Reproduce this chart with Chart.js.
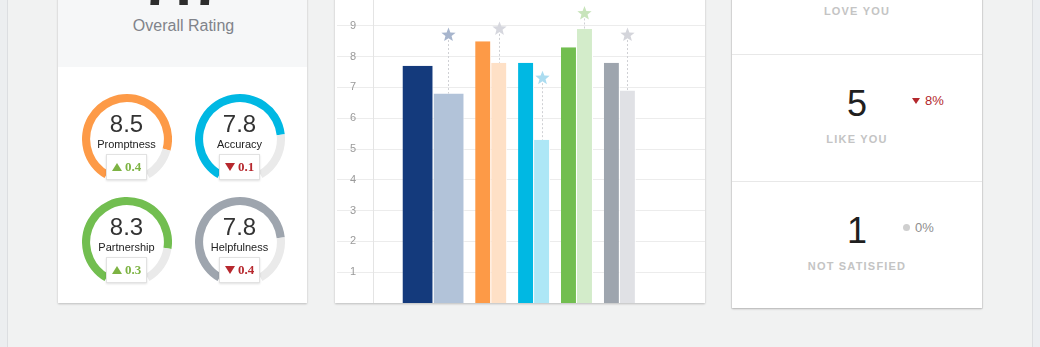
<!DOCTYPE html>
<html><head><meta charset="utf-8">
<script src="https://cdn.jsdelivr.net/npm/chart.js@4.4.1/dist/chart.umd.min.js"></script>
<style>
html,body{margin:0;padding:0;}
body{width:1040px;height:347px;overflow:hidden;background:#f1f2f2;position:relative;font-family:Arial,"Liberation Sans",sans-serif;}
.strip-l{position:absolute;left:0;top:0;width:7px;height:347px;background:#eceef0;border-right:1px solid #dcdee1;}
.strip-r{position:absolute;left:1032px;top:0;width:8px;height:347px;background:#eceef1;border-left:1px solid #dcdee1;}
.card{position:absolute;background:#fff;box-shadow:0 1px 2px rgba(0,0,0,.22);}
#cardL{left:58px;top:-60px;width:249px;height:363px;}
#cardL .hdr{position:absolute;left:0;top:0;width:249px;height:127px;background:#f6f7f8;}
#cardM{left:335px;top:-60px;width:370px;height:363px;}
#cardR{left:732px;top:-80px;width:250px;height:388px;box-shadow:0 1px 2px rgba(0,0,0,.22),0 0 0 1px #e4e4e4;}
.big{position:absolute;left:59px;width:249px;top:-45px;text-align:center;font-size:60px;line-height:60px;font-weight:bold;color:#2d2d2d;}
.ovl{position:absolute;left:59px;width:249px;top:18px;text-align:center;font-size:16px;line-height:16px;color:#80838a;}
#gauges{position:absolute;left:70px;top:84px;display:grid;grid-template-columns:113px 113px;grid-auto-rows:103px;}
.g{position:relative;width:113px;height:103px;}
.g canvas{position:absolute;left:11.5px;top:6.5px;}
.g .val{position:absolute;left:0;width:113px;top:28px;text-align:center;font-size:24px;line-height:24px;color:#333;}
.g .lab{position:absolute;left:0;width:113px;top:55px;text-align:center;font-size:11px;line-height:11px;color:#222;}
.g .box{position:absolute;left:36px;top:70px;width:41px;height:26px;box-sizing:border-box;background:#fff;border:1px solid #e2e2e2;box-shadow:0 1px 2px rgba(0,0,0,.12);text-align:center;font:bold 13px "Liberation Serif","Times New Roman",serif;line-height:24px;}
.up{color:#7db343;} .dn{color:#b7282e;}
.tri{display:inline-block;width:0;height:0;margin-right:3px;vertical-align:0px;}
.tri.u{border-left:5px solid transparent;border-right:5px solid transparent;border-bottom:8px solid #7db343;}
.tri.d{border-left:5px solid transparent;border-right:5px solid transparent;border-top:8px solid #b7282e;}
#bars{position:absolute;left:335px;top:-25px;}
#sent{position:absolute;left:732px;top:0;width:250px;}
.row{position:absolute;left:0;width:250px;height:127px;}
.row.div{border-top:1px solid #e8e8e8;box-sizing:border-box;}
.row .num{position:absolute;left:0;width:250px;top:30.5px;text-align:center;font-size:36px;line-height:36px;color:#1f1f1f;}
.row .sl{position:absolute;left:0;width:250px;top:79px;text-align:center;font-size:11px;line-height:11px;font-weight:bold;letter-spacing:1.2px;color:#c4c4c4;}
.row .chg{position:absolute;top:39px;font-size:13px;line-height:13px;}
.chg.down{left:180px;color:#b3282d;}
.chg.flat{left:171px;color:#8e8e8e;}
.chg .t{display:inline-block;width:0;height:0;border-left:4px solid transparent;border-right:4px solid transparent;border-top:6px solid #b3282d;margin-right:5px;vertical-align:1px;}
.chg .dot{display:inline-block;width:7px;height:7px;border-radius:50%;background:#cfcfcf;margin-right:5px;vertical-align:1px;}
</style>
</head>
<body>
<div class="strip-l"></div><div class="strip-r"></div>
<div class="card" id="cardL"><div class="hdr"></div></div>
<div class="big" id="big"></div>
<div class="ovl">Overall Rating</div>
<div id="gauges"></div>
<div class="card" id="cardM"></div>
<canvas id="bars" width="370" height="328"></canvas>
<div class="card" id="cardR"></div>
<div id="sent"></div>
<script>
// ---- data ----
const overallRating = 7.7;
const criteria = ['Promptness', 'Accuracy', 'Partnership', 'Helpfulness'];
const criteriaScores = [8.5, 7.8, 8.3, 7.8];
const criteriaDelta = [0.4, -0.1, 0.3, -0.4];
const barCategories = ['Overall', 'Promptness', 'Accuracy', 'Partnership', 'Helpfulness'];
const currentScores = [7.7, 8.5, 7.8, 8.3, 7.8];
const compareScores = [6.8, 7.8, 5.3, 8.9, 6.9];
const benchmarkScores = [8.7, 8.9, 7.3, 9.4, 8.7];
const yTickValues = [1, 2, 3, 4, 5, 6, 7, 8, 9];
const sentimentLabels = ['LOVE YOU', 'LIKE YOU', 'NOT SATISFIED'];
const sentimentCounts = [null, 5, 1];
const sentimentChange = [null, -8, 0];

// ---- styles ----
const gaugeColors = ['#fd9a47', '#00b8e3', '#72be50', '#9ea5ae'];
const curColors = ['#143a7c', '#fd9a47', '#00b8e3', '#72be50', '#9ea5ae'];
const cmpColors = ['#b2c3d9', '#fee0c6', '#ade7f6', '#d3ecca', '#e0e1e5'];
const starColors = ['#a7b5cd', '#d6d7de', '#abdcf0', '#c8e4bb', '#d4d5db'];
const FONT = 'Arial, "Liberation Sans", sans-serif';
Chart.defaults.font.family = FONT;

document.getElementById('big').textContent = overallRating.toFixed(1);

// ---- gauges ----
const gWrap = document.getElementById('gauges');
criteria.forEach((name, i) => {
  const cell = document.createElement('div');
  cell.className = 'g';
  const cv = document.createElement('canvas');
  cv.width = 90; cv.height = 90;
  cell.appendChild(cv);
  const v = document.createElement('div'); v.className = 'val'; v.textContent = criteriaScores[i].toFixed(1); cell.appendChild(v);
  const l = document.createElement('div'); l.className = 'lab'; l.textContent = name; cell.appendChild(l);
  const b = document.createElement('div'); b.className = 'box';
  const d = criteriaDelta[i];
  b.innerHTML = '<span class="' + (d >= 0 ? 'up' : 'dn') + '"><span class="tri ' + (d >= 0 ? 'u' : 'd') + '"></span>' + Math.abs(d).toFixed(1) + '</span>';
  cell.appendChild(b);
  gWrap.appendChild(cell);
  new Chart(cv, {
    type: 'doughnut',
    data: { labels: [name, ''], datasets: [{ data: [criteriaScores[i], 10 - criteriaScores[i]], backgroundColor: [gaugeColors[i], '#eaeaea'], borderWidth: 0 }] },
    options: { responsive: false, animation: false, events: [], cutout: '82%', rotation: -150, circumference: 300,
      layout: { padding: 0 }, plugins: { legend: { display: false }, tooltip: { enabled: false } } }
  });
});

// ---- sentiment ----
const sWrap = document.getElementById('sent');
sentimentLabels.forEach((lab, i) => {
  const r = document.createElement('div');
  r.className = 'row' + (i > 0 ? ' div' : '');
  r.style.top = (-73 + i * 127) + 'px';
  let html = '';
  if (sentimentCounts[i] !== null) html += '<div class="num">' + sentimentCounts[i] + '</div>';
  const c = sentimentChange[i];
  if (c !== null) {
    if (c < 0) html += '<div class="chg down"><span class="t"></span>' + Math.abs(c) + '%</div>';
    else html += '<div class="chg flat"><span class="dot"></span>' + c + '%</div>';
  }
  html += '<div class="sl">' + lab + '</div>';
  r.innerHTML = html;
  sWrap.appendChild(r);
});

// ---- bar chart ----
const thick = i => (i === 0 ? 31 : 16);
const GAP = 11.5;
const span = i => 2 * thick(i) + GAP;
const UNIT = span(1);
const slotX = [];
barCategories.forEach((c, i) => { slotX.push(i === 0 ? 0 : slotX[i - 1] + (span(i - 1) + span(i)) / 2 / UNIT); });

const barBase = { borderColor: '#ffffff', borderWidth: { top: 0, right: 1, bottom: 0, left: 0 }, borderSkipped: false, inflateAmount: 0 };
const pts = (arr, from, to) => arr.slice(from, to).map((y, k) => ({ x: slotX[from + k], y }));

function drawStar(ctx, x, y, ro, ri, color) {
  ctx.beginPath();
  for (let k = 0; k < 10; k++) {
    const r = k % 2 === 0 ? ro : ri;
    const a = -Math.PI / 2 + k * Math.PI / 5;
    const px = x + r * Math.cos(a), py = y + r * Math.sin(a);
    if (k === 0) ctx.moveTo(px, py); else ctx.lineTo(px, py);
  }
  ctx.closePath();
  ctx.fillStyle = color;
  ctx.fill();
}
const benchmarkPlugin = {
  id: 'benchmark',
  afterDatasetsDraw(chart) {
    const ctx = chart.ctx, ys = chart.scales.y;
    barCategories.forEach((c, i) => {
      const meta = chart.getDatasetMeta(i === 0 ? 1 : 3);
      const el = meta.data[i === 0 ? 0 : i - 1];
      if (!el) return;
      const x = Math.round(el.x - 0.5) + 0.5;
      const yStar = ys.getPixelForValue(benchmarkScores[i]);
      ctx.save();
      ctx.strokeStyle = '#cfd0d4';
      ctx.lineWidth = 1;
      ctx.setLineDash([2, 2]);
      ctx.beginPath();
      ctx.moveTo(x, yStar + 5);
      ctx.lineTo(x, el.y);
      ctx.stroke();
      ctx.setLineDash([]);
      drawStar(ctx, x, yStar, 7.5, 3.2, starColors[i]);
      ctx.restore();
    });
  }
};

new Chart(document.getElementById('bars'), {
  type: 'bar',
  data: {
    datasets: [
      Object.assign({ label: 'Overall', data: pts(currentScores, 0, 1), backgroundColor: curColors[0], barThickness: thick(0), stack: 'current' }, barBase),
      Object.assign({ label: 'Overall (compare)', data: pts(compareScores, 0, 1), backgroundColor: cmpColors[0], barThickness: thick(0), stack: 'compare' }, barBase),
      Object.assign({ label: 'Current', data: pts(currentScores, 1), backgroundColor: curColors.slice(1), barThickness: thick(1), stack: 'current' }, barBase),
      Object.assign({ label: 'Compare', data: pts(compareScores, 1), backgroundColor: cmpColors.slice(1), barThickness: thick(1), stack: 'compare' }, barBase)
    ]
  },
  options: {
    responsive: false, animation: false, events: [],
    layout: { padding: { top: 20, bottom: 0, left: 0, right: 0 } },
    plugins: { legend: { display: false }, tooltip: { enabled: false } },
    scales: {
      x: { type: 'linear', display: false, min: -1.41, max: 6.33, offset: false },
      y: {
        min: 0, max: 10, stacked: false,
        afterBuildTicks: s => { s.ticks = yTickValues.map(v => ({ value: v })); },
        afterFit: s => { s.width = 38; s.paddingTop = 0; s.paddingBottom = 0; },
        grid: { color: '#ececec', tickLength: 36, tickColor: '#ececec' },
        border: { color: '#e4e4e4', width: 1 },
        ticks: { padding: -19, color: '#9a9a9a', font: { size: 11, family: FONT } }
      }
    }
  },
  plugins: [benchmarkPlugin]
});
</script>
</body></html>
